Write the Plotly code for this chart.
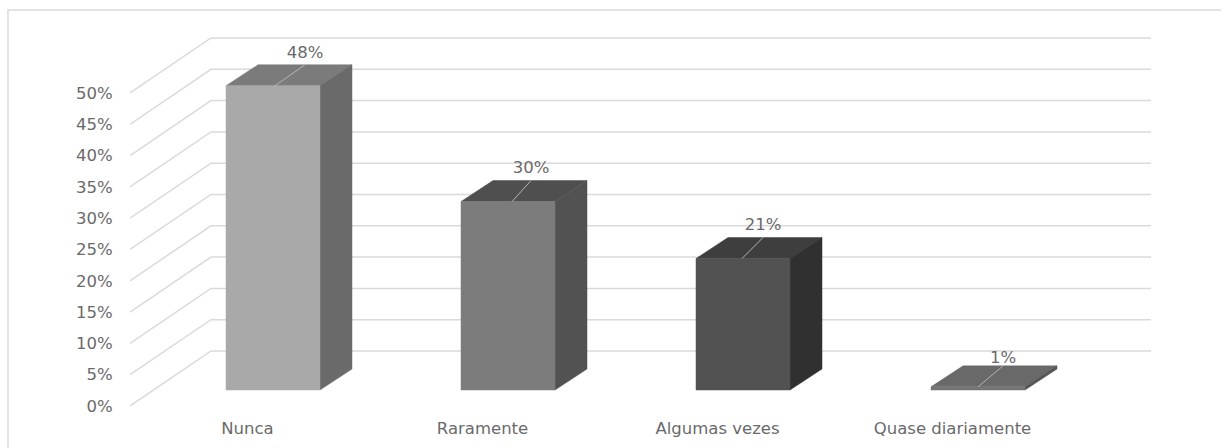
import plotly.graph_objects as go

# ---- data ----
categories = ["Nunca", "Raramente", "Algumas vezes", "Quase diariamente"]
values = [48.6, 30.1, 21.0, 0.5]
value_labels = ["48%", "30%", "21%", "1%"]
y_ticks = [0, 5, 10, 15, 20, 25, 30, 35, 40, 45, 50]
y_tick_labels = ["0%", "5%", "10%", "15%", "20%", "25%", "30%", "35%", "40%", "45%", "50%"]

# ---- styles ----
front_colors = ["#a9a9a9", "#7c7c7c", "#525252", "#757575"]
top_colors = ["#7b7b7b", "#4f4f4f", "#3e3e3e", "#696969"]
side_colors = ["#6a6a6a", "#525252", "#303030", "#555555"]
GRID = "#dadada"
TEXT = "#6a6a6a"
FONT = "DejaVu Sans"
FONT_SIZE = 16.5

W, H = 1221, 448
L, R, T, B = 130, 68, 10, 42
PX_X = 235.0          # pixels per category slot
PX_Y = 6.26           # pixels per percentage point


def dx(px):
    return px / PX_X


def dy(px):
    return px / PX_Y


WALL_X, WALL_Y = dx(81), dy(55)      # depth of the floor
BAR_X, BAR_Y = dx(25.5), dy(16)      # offset of the bar's front from the floor's front
DEPTH_X, DEPTH_Y = dx(32), dy(21)    # depth of a bar
HALF = dx(47)                        # half width of a bar
LABEL_SHIFT = [dx(32), dx(23), dx(20), dx(25)]
LABEL_RISE = [dy(11), dy(12), dy(12), dy(7)]
LEADER_START = [dx(2), dx(4), dx(-1), dx(0)]

x_min = -0.5
x_max = x_min + (W - L - R) / PX_X
y_max = (H - B - T) / PX_Y
floor_right = x_min + len(categories)

fig = go.Figure()


def poly(xs, ys, fill):
    fig.add_trace(go.Scatter(
        x=xs + xs[:1], y=ys + ys[:1], mode="lines", fill="toself",
        fillcolor=fill, line=dict(color=fill, width=0.5), hoverinfo="skip",
    ))


def line(xs, ys, color=GRID, width=1.5):
    fig.add_trace(go.Scatter(
        x=xs, y=ys, mode="lines", line=dict(color=color, width=width),
        hoverinfo="skip",
    ))


# side wall diagonals and back wall lines
for t in y_ticks:
    line([x_min, x_min + WALL_X, floor_right + WALL_X], [t, t + WALL_Y, t + WALL_Y])

# bars
for i, v in enumerate(values):
    x0, x1 = i + BAR_X - HALF, i + BAR_X + HALF
    y0, y1 = BAR_Y, BAR_Y + v
    poly([x0, x1, x1 + DEPTH_X, x0 + DEPTH_X],
         [y1, y1, y1 + DEPTH_Y, y1 + DEPTH_Y], top_colors[i])
    poly([x1, x1 + DEPTH_X, x1 + DEPTH_X, x1],
         [y0, y0 + DEPTH_Y, y1 + DEPTH_Y, y1], side_colors[i])
    poly([x0, x1, x1, x0], [y0, y0, y1, y1], front_colors[i])
    # leader line from the front top edge to the label
    line([i + BAR_X + LEADER_START[i], i + BAR_X + LABEL_SHIFT[i]],
         [y1, y1 + DEPTH_Y], color="#b5b5b5", width=1)

# data labels
fig.add_trace(go.Scatter(
    x=[i + BAR_X + LABEL_SHIFT[i] for i in range(len(values))],
    y=[BAR_Y + v + DEPTH_Y + LABEL_RISE[i] for i, v in enumerate(values)],
    mode="text", text=value_labels, textposition="middle center",
    textfont=dict(family=FONT, size=FONT_SIZE, color=TEXT), hoverinfo="skip",
))

fig.update_layout(
    width=W, height=H,
    margin=dict(l=L, r=R, t=T, b=B, pad=0),
    paper_bgcolor="white", plot_bgcolor="white",
    showlegend=False, hovermode=False,
    xaxis=dict(
        range=[x_min, x_max], tickmode="array", automargin=False,
        tickvals=list(range(len(categories))), ticktext=categories,
        showgrid=False, zeroline=False, showline=False,
        ticks="outside", ticklen=7, tickcolor="rgba(0,0,0,0)",
        tickfont=dict(family=FONT, size=FONT_SIZE, color=TEXT),
    ),
    yaxis=dict(
        range=[0, y_max], tickmode="array", automargin=False,
        tickvals=y_ticks, ticktext=y_tick_labels,
        showgrid=False, zeroline=False, showline=False,
        ticks="outside", ticklen=13, tickcolor="rgba(0,0,0,0)",
        tickfont=dict(family=FONT, size=FONT_SIZE, color=TEXT),
    ),
    shapes=[dict(
        type="rect", xref="paper", yref="paper", layer="below",
        x0=(8 - L) / (W - L - R), x1=(W + 10 - L) / (W - L - R),
        y0=-(B + 10) / (H - T - B), y1=1,
        line=dict(color="#dcdcdc", width=1.5),
    )],
)

fig.write_html(
    "out.html",
    config={"displayModeBar": False},
    post_script="document.body.style.margin='0';document.documentElement.style.overflow='hidden';",
)
